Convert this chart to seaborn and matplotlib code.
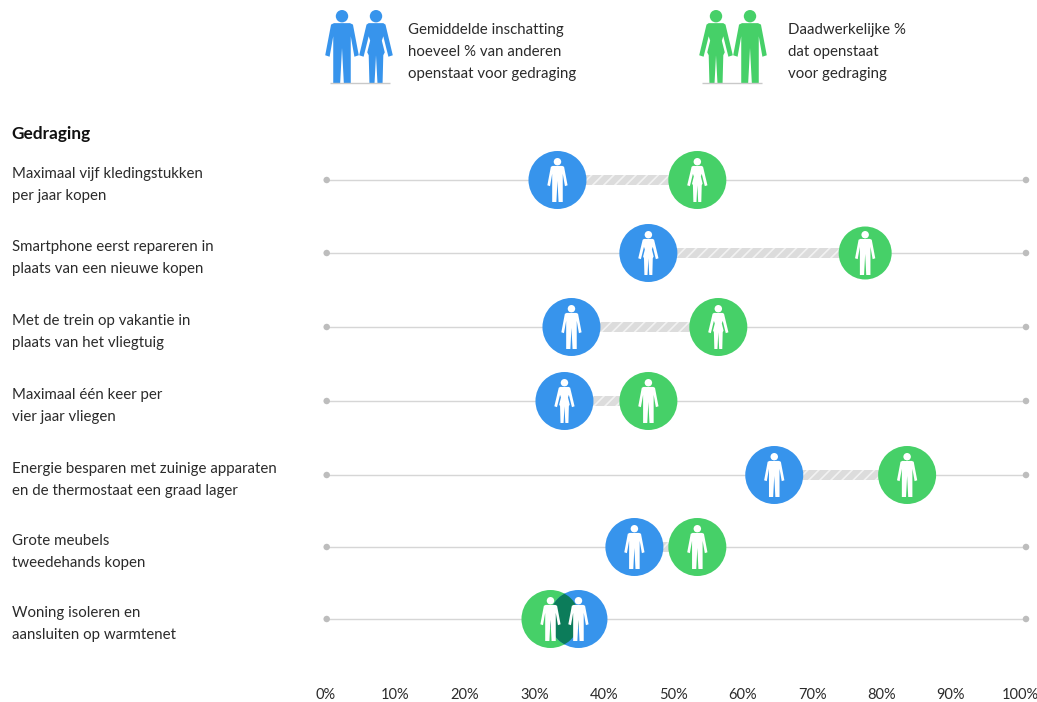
import numpy as np
import pandas as pd
import matplotlib
matplotlib.use("Agg")
import matplotlib.pyplot as plt
import seaborn as sns
from matplotlib.patches import Ellipse
from matplotlib.path import Path

behaviours = [
    "Maximaal vijf kledingstukken\nper jaar kopen",
    "Smartphone eerst repareren in\nplaats van een nieuwe kopen",
    "Met de trein op vakantie in\nplaats van het vliegtuig",
    "Maximaal één keer per\nvier jaar vliegen",
    "Energie besparen met zuinige apparaten\nen de thermostaat een graad lager",
    "Grote meubels\ntweedehands kopen",
    "Woning isoleren en\naansluiten op warmtenet",
]
estimated = [33, 46, 35, 34, 64, 44, 36]
actual = [53, 77, 56, 46, 83, 53, 32]
estimated_icon = ["man", "woman", "man", "woman", "man", "man", "man"]
actual_icon = ["woman", "man", "woman", "man", "man", "man", "man"]
ticks = [0, 10, 20, 30, 40, 50, 60, 70, 80, 90, 100]
tick_labels = [f"{t}%" for t in ticks]
legend_estimated = "Gemiddelde inschatting\nhoeveel % van anderen\nopenstaat voor gedraging"
legend_actual = "Daadwerkelijke %\ndat openstaat\nvoor gedraging"

# layout, in pixels of the 1037x702 canvas
ROW_Y = [180, 253, 327, 401, 475, 547, 619]
ACTUAL_RADIUS = [29, 26.5, 29, 29, 29, 29, 29]
W, H = 1037, 702
BLUE = "#3794EC"
GREEN = "#46D068"
OVERLAP = "#0C7C5A"
TEXT = "#2b2b2b"
RADIUS = 29

sns.set_theme(style="white")
plt.rcParams["font.family"] = ["Lato", "DejaVu Sans"]


def person(kind):
    # right half of the outline on a 0-100 tall figure, mirrored for the left half
    if kind == "man":
        half = [(11, 82), (15, 80), (23, 38), (17, 36), (12, 64), (12, 45), (12, 0), (2.5, 0)]
        crotch = (0, 48)
    else:
        half = [(10, 82), (13, 80), (23, 38), (17, 36), (10, 64), (8, 58), (12, 42), (10, 38),
                (9, 0), (2, 0)]
        crotch = (0, 38)
    body = half + [crotch] + [(-x, y) for x, y in reversed(half)]
    pts = np.array(body + [body[0]], dtype=float)
    pts[:, 1] -= 50
    outline = Path(pts / 50, closed=True)
    head = Path.circle((0, 0.83), 0.17)
    return Path.make_compound_path(outline, head)


MARKERS = {"man": person("man"), "woman": person("woman")}

df = pd.DataFrame({
    "y": ROW_Y,
    "estimated": estimated,
    "actual": actual,
    "estimated_icon": estimated_icon,
    "actual_icon": actual_icon,
})

fig = plt.figure(figsize=(W / 100, H / 100), dpi=100)
page = fig.add_axes([0, 0, 1, 1])
page.set_xlim(0, W)
page.set_ylim(H, 0)
page.axis("off")

ax = fig.add_axes([326 / W, (H - 665) / H, 700 / W, (665 - 130) / H])
ax.patch.set_alpha(0)
ax.set_xlim(0, 100)
ax.set_ylim(665, 130)
sns.despine(ax=ax, left=True, bottom=True)
ax.set_yticks([])
ax.set_xticks(np.array(ticks) * 0.993 - 0.1, tick_labels)
ax.tick_params(axis="x", length=0, pad=16.5, labelsize=10.5, labelcolor=TEXT)

# rails with end dots
ax.hlines(df["y"], 0, 100, color="#d6d6d6", lw=1.0, zorder=1)
for end in (0, 100):
    sns.scatterplot(x=[end] * len(df), y=df["y"], s=22, color="#bdbdbd", edgecolor="none",
                    clip_on=False, zorder=2, legend=False, ax=ax)

# hatched gap between estimate and actual
plt.rcParams["hatch.linewidth"] = 1.2
left = df[["estimated", "actual"]].min(axis=1)
gap = (df["actual"] - df["estimated"]).abs()
ax.barh(df["y"], gap, left=left, height=10, color="#dcdcdc", edgecolor="#f2f2f2",
        hatch="///", linewidth=0, zorder=2)

# circles
sns.scatterplot(data=df, x="actual", y="y", s=(2 * np.array(ACTUAL_RADIUS) * 0.72) ** 2,
                color=GREEN, edgecolor="none", zorder=3, legend=False, clip_on=False, ax=ax)
sns.scatterplot(data=df, x="estimated", y="y", s=(2 * RADIUS * 0.72) ** 2, color=BLUE,
                edgecolor="none", zorder=3, legend=False, clip_on=False, ax=ax)

# darker lens where the two circles overlap
for _, row in df.iterrows():
    if abs(row["actual"] - row["estimated"]) * 7 < 2 * RADIUS:
        first = Ellipse((row["estimated"], row["y"]), 2 * RADIUS / 7, 2 * RADIUS,
                        facecolor=OVERLAP, edgecolor="none", zorder=4)
        second = Ellipse((row["actual"], row["y"]), 2 * RADIUS / 7, 2 * RADIUS,
                         facecolor="none", edgecolor="none", zorder=1)
        ax.add_patch(second)
        ax.add_patch(first)
        first.set_clip_path(second)

# white people inside the circles
for col, icon in (("estimated", "estimated_icon"), ("actual", "actual_icon")):
    for kind, sub in df.groupby(icon):
        sns.scatterplot(data=sub, x=col, y="y", marker=MARKERS[kind], s=(44 * 0.72) ** 2,
                        color="white", edgecolor="none", linewidth=0, zorder=5,
                        legend=False, clip_on=False, ax=ax)
ax.set_xlabel("")
ax.set_ylabel("")

# row labels
page.text(11.5, 133.5, "Gedraging", fontsize=12.4, fontweight="bold", color="#111111", va="center")
for label, y in zip(behaviours, ROW_Y):
    page.text(12, y + 5, label, fontsize=10.85, color=TEXT, va="center", linespacing=1.7)

# legend block at the top
icon_size = (73 * 0.72) ** 2
for x, kind, colour in [(342, "man", BLUE), (376, "woman", BLUE),
                        (716, "woman", GREEN), (750, "man", GREEN)]:
    sns.scatterplot(x=[x], y=[46.5], marker=MARKERS[kind], s=icon_size, color=colour,
                    edgecolor="none", linewidth=0, legend=False, ax=page)
page.hlines([83, 83], [330, 702], [390, 762], color="#c9c9c9", lw=1)
page.text(408, 52, legend_estimated, fontsize=10.85, color=TEXT, va="center", linespacing=1.7)
page.text(788, 52, legend_actual, fontsize=10.85, color=TEXT, va="center", linespacing=1.7)
page.set_xlabel("")
page.set_ylabel("")

fig.savefig("out.png", dpi=100)
